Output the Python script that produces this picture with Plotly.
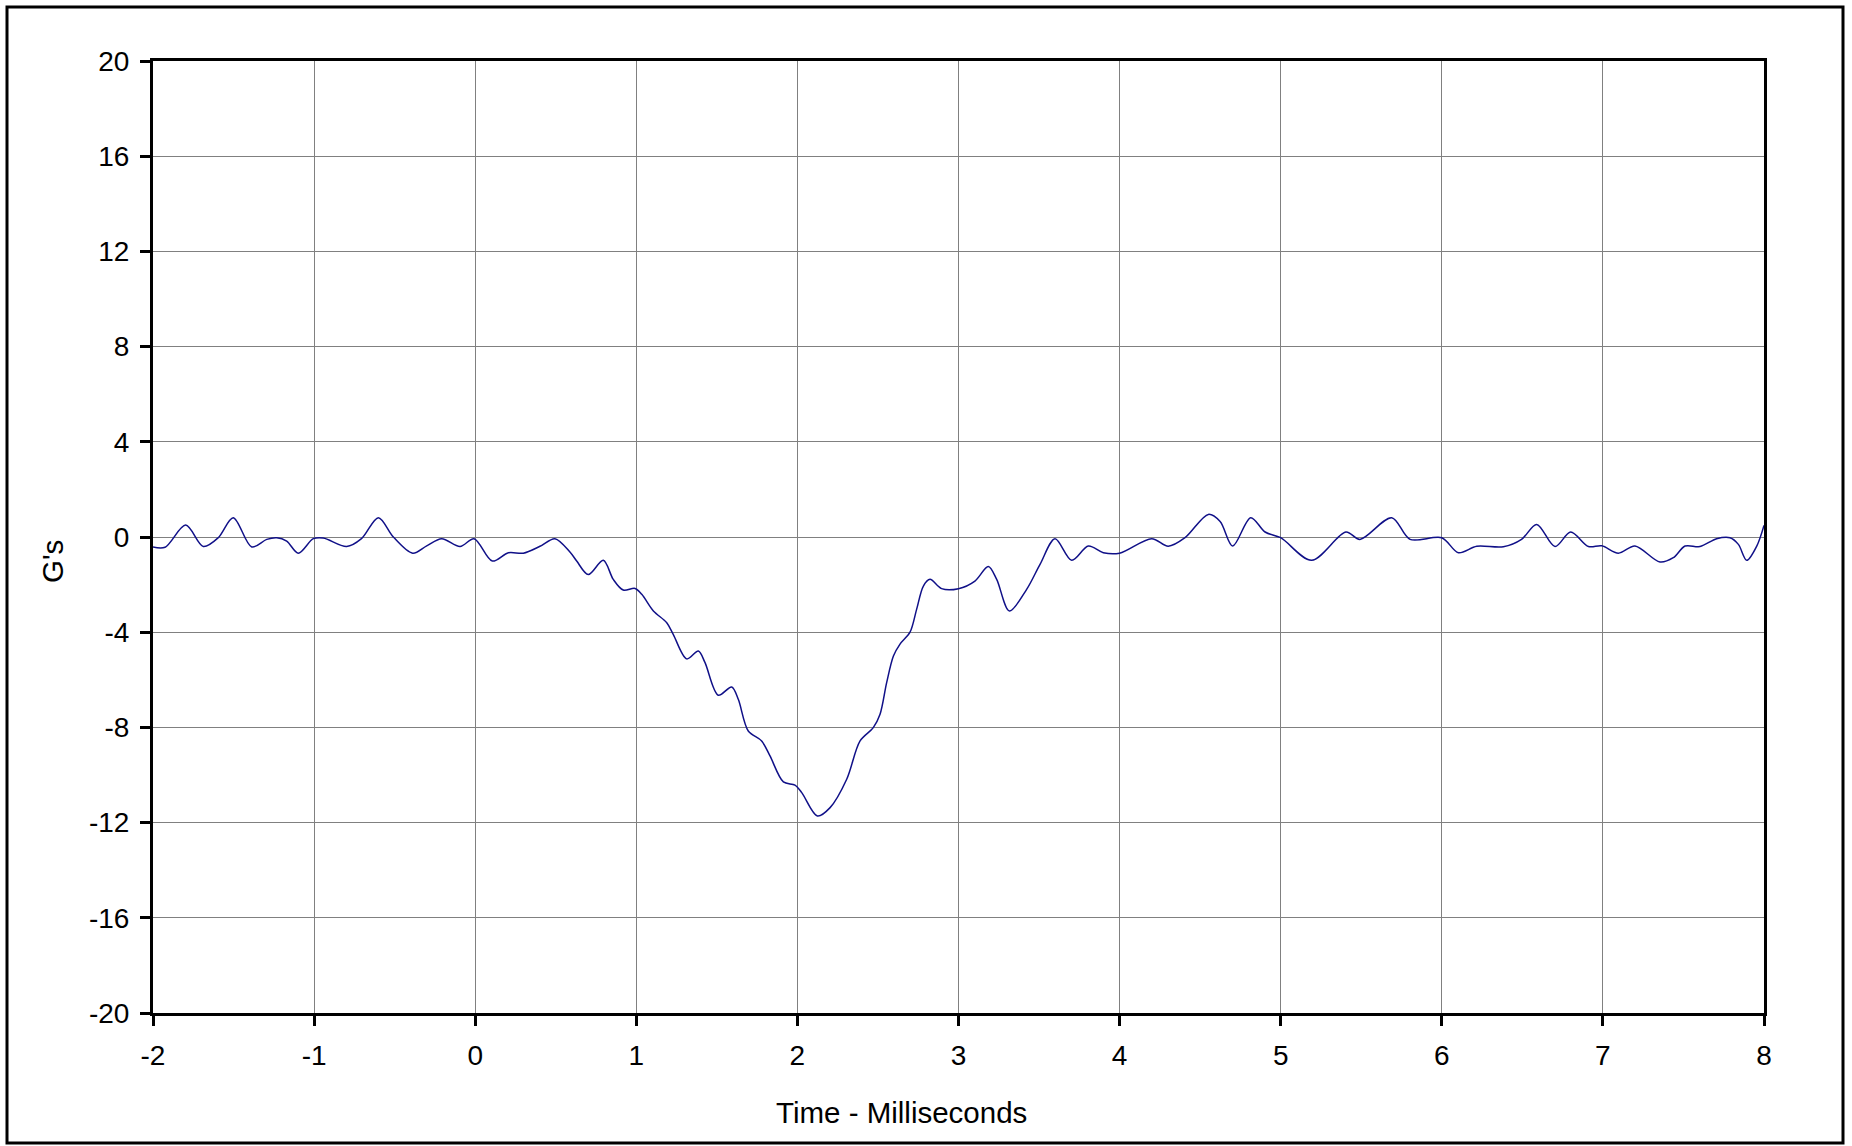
import plotly.graph_objects as go

time_ms = [-2.0, -1.925, -1.797, -1.688, -1.595, -1.502, -1.387, -1.294, -1.232, -1.170,
           -1.098, -1.005, -0.943, -0.798, -0.706, -0.601, -0.508, -0.388, -0.301, -0.208,
           -0.094, -0.007, 0.106, 0.206, 0.299, 0.402, 0.495, 0.588, 0.630, 0.702,
           0.795, 0.857, 0.919, 0.992, 1.034, 1.106, 1.189, 1.23, 1.313, 1.385,
           1.426, 1.509, 1.592, 1.633, 1.695, 1.778, 1.830, 1.913, 1.985, 2.027,
           2.124, 2.203, 2.306, 2.389, 2.471, 2.513, 2.554, 2.596, 2.637, 2.699,
           2.74, 2.782, 2.823, 2.895, 3.0, 3.102, 3.185, 3.237, 3.316, 3.423,
           3.506, 3.599, 3.703, 3.806, 3.899, 4.0, 4.199, 4.302, 4.406, 4.551,
           4.624, 4.702, 4.814, 4.903, 5.0, 5.192, 5.405, 5.492, 5.689, 5.803,
           6.0, 6.103, 6.217, 6.382, 6.495, 6.589, 6.703, 6.800, 6.91, 6.993,
           7.096, 7.199, 7.354, 7.437, 7.51, 7.603, 7.706, 7.789, 7.841, 7.893,
           7.955, 8.0]

g_values = [-0.42, -0.43, 0.50, -0.40, -0.03, 0.81, -0.42, -0.10, -0.03, -0.17,
            -0.68, -0.07, -0.04, -0.40, -0.07, 0.81, 0.0, -0.68, -0.37, -0.07,
            -0.40, -0.07, -1.01, -0.66, -0.68, -0.39, -0.07, -0.63, -1.01, -1.58,
            -0.98, -1.78, -2.23, -2.16, -2.41, -3.11, -3.60, -4.10, -5.12, -4.79,
            -5.27, -6.65, -6.30, -6.82, -8.15, -8.57, -9.20, -10.29, -10.43, -10.74,
            -11.72, -11.37, -10.18, -8.57, -8.01, -7.45, -6.12, -5.0, -4.5, -4.0,
            -3.04, -2.06, -1.78, -2.17, -2.17, -1.85, -1.24, -1.78, -3.11, -2.2,
            -1.15, -0.07, -0.98, -0.38, -0.66, -0.68, -0.07, -0.39, -0.03, 0.95,
            0.65, -0.38, 0.81, 0.21, -0.03, -0.98, 0.21, -0.10, 0.81, -0.10,
            -0.03, -0.66, -0.39, -0.41, -0.10, 0.53, -0.40, 0.21, -0.40, -0.37,
            -0.68, -0.38, -1.05, -0.87, -0.38, -0.40, -0.07, -0.03, -0.31, -0.98,
            -0.38, 0.49]

x_ticks = [-2, -1, 0, 1, 2, 3, 4, 5, 6, 7, 8]
y_ticks = [-20, -16, -12, -8, -4, 0, 4, 8, 12, 16, 20]
x_title = "Time - Milliseconds"
y_title = "G's"

W, H = 1852, 1146
L, R, T, B = 153, 88, 61, 133
pw, ph = W - L - R, H - T - B

FONT = "Liberation Sans, Arial, sans-serif"

fig = go.Figure()
fig.add_trace(go.Scatter(
    x=time_ms, y=g_values, mode="lines",
    line=dict(color="#101088", width=1.5, shape="spline", smoothing=0.9),
    showlegend=False, hoverinfo="x+y"))

axis_common = dict(
    showgrid=True, gridcolor="#808080", gridwidth=1,
    showline=True, linecolor="black", linewidth=3, mirror=True,
    ticks="outside", ticklen=10, tickwidth=2.5, tickcolor="black",
    tickfont=dict(family=FONT, size=28, color="black"),
    zeroline=False,
)

fig.update_xaxes(range=[-2, 8], tickvals=x_ticks, ticktext=[str(v) for v in x_ticks],
                 ticklabelstandoff=5, **axis_common)
fig.update_yaxes(range=[-20, 20], tickvals=y_ticks, ticktext=[str(v) for v in y_ticks],
                 ticklabelstandoff=5, **axis_common)

def px_x(p):
    return (p - L) / pw

def px_y(p):
    return (H - B - p) / ph

fig.add_annotation(text=x_title, xref="paper", yref="paper",
                   x=px_x(901), y=px_y(1112), showarrow=False,
                   font=dict(family=FONT, size=29.5, color="black"),
                   xanchor="center", yanchor="middle")
fig.add_annotation(text=y_title, xref="paper", yref="paper",
                   x=px_x(52), y=px_y(562), showarrow=False, textangle=-90,
                   font=dict(family=FONT, size=29.5, color="black"),
                   xanchor="center", yanchor="middle")

fig.add_shape(type="rect", xref="paper", yref="paper",
              x0=px_x(7), x1=px_x(1843), y0=px_y(1143), y1=px_y(7),
              line=dict(color="black", width=3), fillcolor="rgba(0,0,0,0)", layer="below")

fig.update_layout(
    width=W, height=H,
    margin=dict(l=L, r=R, t=T, b=B, pad=0),
    paper_bgcolor="white", plot_bgcolor="white",
    font=dict(family=FONT, color="black"),
)

fig.write_html("out.html",
               config={"displayModeBar": False},
               post_script="document.body.style.margin='0';document.body.style.overflow='hidden';")
